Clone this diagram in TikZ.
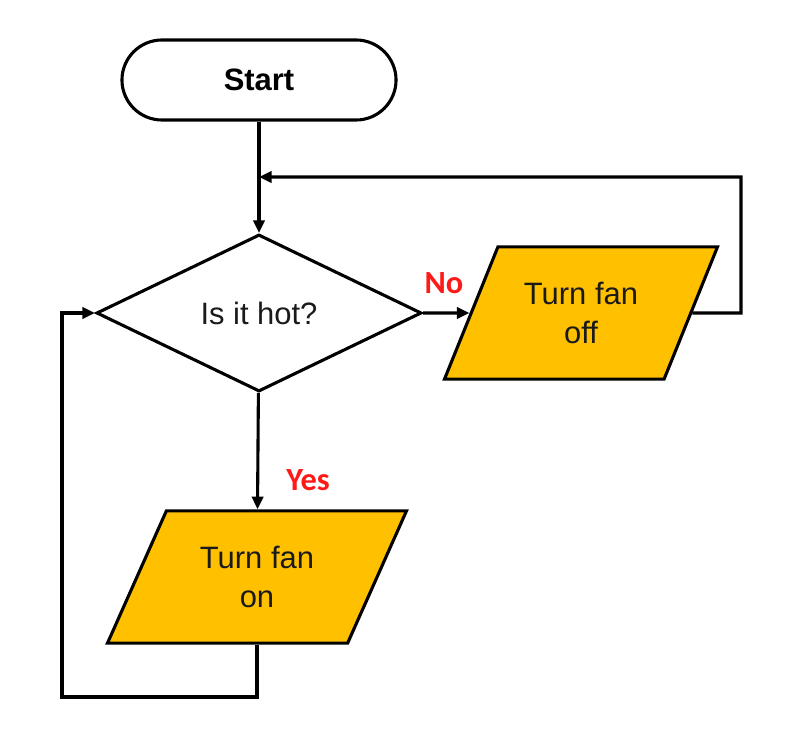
\documentclass[tikz,border=0pt]{standalone}
\usepackage{fontspec}
\setmainfont{Liberation Sans}
\newfontfamily\labelfont{Carlito}
\usepackage{xcolor}
\definecolor{fangold}{HTML}{FFC000}
\definecolor{answerred}{HTML}{FF1A1A}
\definecolor{inktext}{HTML}{1A1A1A}
\usetikzlibrary{arrows.meta,positioning,shapes.geometric}

\begin{document}
\begin{tikzpicture}[
		x=0.025cm, y=-0.025cm,
		line width=2.2pt,
		>={Triangle[length=9pt,width=8pt]},
		terminal/.style={draw, rounded corners=1cm, minimum width=6.85cm, minimum height=2cm, font=\fontsize{22}{26}\selectfont\bfseries},
		decision/.style={draw, diamond, inner sep=0pt, minimum width=8.125cm, minimum height=3.925cm, text=inktext, font=\fontsize{22}{26}\selectfont},
		io/.style={draw, fill=fangold, trapezium, trapezium stretches body, inner xsep=0pt, inner ysep=25pt, align=center, text=inktext, font=\fontsize{22}{28}\selectfont},
		answer/.style={text=answerred, font=\labelfont\fontsize{23}{26}\selectfont\bfseries}
	]
		\useasboundingbox (0,0) rectangle (806,753);

		\node[terminal] (start) at (259,80) {Start};
		\node[decision] (hot) at (259,313) {Is it hot?};
		\node[io, trapezium left angle=68, trapezium right angle=112, minimum width=6.825cm] (off) at (581,313) {Turn fan\\off};
		\node[io, trapezium left angle=66, trapezium right angle=114, minimum width=7.475cm] (on) at (257,577) {Turn fan\\on};

		\coordinate (merge) at (259,177);
		\coordinate (rloop) at (741,313);
		\coordinate (lloop) at (62,697);

		\draw[->] (start) -- (hot);
		\draw[->] (hot) -- (off) node[answer, pos=0.45, above=9pt] (no) {No};
		\draw[->] (hot) -- (on) node[answer, pos=0.75, right=16pt] (yes) {Yes};
		\draw[->] (off.east) -- (rloop) |- (merge);
		\draw[->] (on.south) |- (lloop) |- (hot.west);
	\end{tikzpicture}
\end{document}
